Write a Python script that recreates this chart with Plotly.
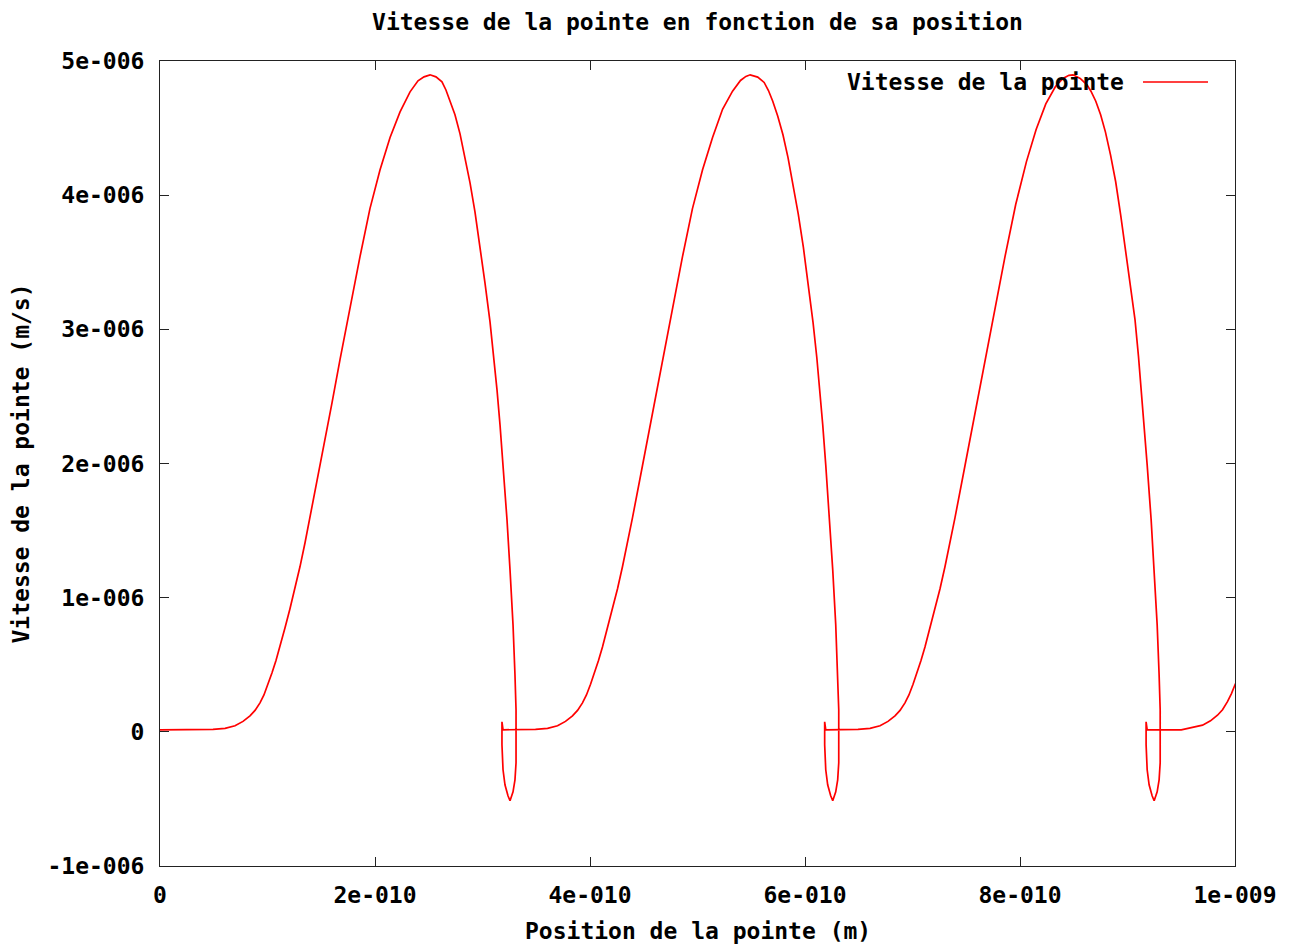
import plotly.graph_objects as go

# positions in units of 1e-10 m, velocities in units of 1e-6 m/s
cycle1_pos = [0.000, 0.493, 0.605, 0.698, 0.772, 0.837, 0.884, 0.930, 0.967, 1.005, 1.042, 1.079,
              1.116, 1.163, 1.209, 1.256, 1.302, 1.349, 1.395, 1.488, 1.600, 1.674, 1.767, 1.860,
              1.953, 2.047, 2.140, 2.233, 2.326, 2.400, 2.456, 2.512, 2.567, 2.623, 2.660, 2.698,
              2.744, 2.791, 2.837, 2.884, 2.930, 2.977, 3.023, 3.070, 3.107, 3.135, 3.163, 3.191,
              3.228, 3.256, 3.284, 3.302, 3.312, 3.312, 3.302, 3.284, 3.265, 3.256, 3.237, 3.209,
              3.191, 3.181, 3.181, 3.191]
cycle1_vit = [0.015, 0.019, 0.026, 0.045, 0.078, 0.119, 0.160, 0.216, 0.275, 0.355, 0.440, 0.532,
              0.632, 0.775, 0.917, 1.066, 1.230, 1.409, 1.595, 1.983, 2.452, 2.773, 3.168, 3.540,
              3.900, 4.190, 4.430, 4.621, 4.770, 4.852, 4.882, 4.897, 4.882, 4.845, 4.784, 4.703,
              4.599, 4.457, 4.286, 4.092, 3.876, 3.622, 3.346, 3.056, 2.788, 2.549, 2.288, 1.990,
              1.580, 1.207, 0.797, 0.425, 0.164, -0.231, -0.358, -0.447, -0.499, -0.514, -0.477, -0.395,
              -0.283, -0.097, 0.075, 0.015]

cycle2_pos = [3.493, 3.605, 3.698, 3.772, 3.837, 3.884, 3.930, 3.967, 4.005, 4.042, 4.079, 4.116,
              4.163, 4.209, 4.256, 4.302, 4.349, 4.395, 4.488, 4.600, 4.674, 4.767, 4.860, 4.953,
              5.047, 5.140, 5.233, 5.326, 5.400, 5.450, 5.490, 5.560, 5.620, 5.660, 5.700, 5.746,
              5.795, 5.842, 5.890, 5.937, 5.985, 6.030, 6.075, 6.110, 6.137, 6.165, 6.193, 6.230,
              6.258, 6.286, 6.304, 6.314, 6.314, 6.304, 6.286, 6.267, 6.258, 6.239, 6.211, 6.193,
              6.183, 6.183, 6.193]
cycle2_vit = [0.019, 0.026, 0.045, 0.078, 0.119, 0.160, 0.216, 0.275, 0.355, 0.440, 0.532, 0.632,
              0.775, 0.917, 1.066, 1.230, 1.409, 1.595, 1.983, 2.452, 2.773, 3.168, 3.540, 3.900,
              4.190, 4.430, 4.640, 4.775, 4.855, 4.885, 4.897, 4.880, 4.840, 4.780, 4.700, 4.590,
              4.450, 4.280, 4.080, 3.860, 3.610, 3.340, 3.050, 2.788, 2.549, 2.288, 1.990, 1.580,
              1.207, 0.797, 0.425, 0.164, -0.231, -0.358, -0.447, -0.499, -0.514, -0.477, -0.395, -0.283,
              -0.097, 0.075, 0.015]

cycle3_pos = [6.493, 6.605, 6.698, 6.772, 6.837, 6.884, 6.930, 6.967, 7.005, 7.042, 7.079, 7.116,
              7.163, 7.209, 7.256, 7.302, 7.349, 7.395, 7.488, 7.600, 7.674, 7.767, 7.860, 7.960,
              8.060, 8.150, 8.240, 8.330, 8.400, 8.455, 8.493, 8.560, 8.623, 8.660, 8.705, 8.750,
              8.795, 8.842, 8.890, 8.937, 8.985, 9.030, 9.070, 9.102, 9.128, 9.155, 9.183, 9.220,
              9.248, 9.276, 9.294, 9.304, 9.304, 9.294, 9.276, 9.257, 9.248, 9.229, 9.201, 9.183,
              9.173, 9.173, 9.183]
cycle3_vit = [0.019, 0.026, 0.045, 0.078, 0.119, 0.160, 0.216, 0.275, 0.355, 0.440, 0.532, 0.632,
              0.775, 0.917, 1.066, 1.230, 1.409, 1.595, 1.983, 2.452, 2.773, 3.168, 3.540, 3.930,
              4.250, 4.490, 4.680, 4.810, 4.870, 4.893, 4.897, 4.870, 4.822, 4.775, 4.700, 4.600,
              4.470, 4.300, 4.100, 3.850, 3.580, 3.330, 3.071, 2.800, 2.549, 2.288, 1.990, 1.580,
              1.207, 0.797, 0.425, 0.164, -0.231, -0.358, -0.447, -0.499, -0.514, -0.477, -0.395, -0.283,
              -0.097, 0.075, 0.015]

cycle4_pos = [9.500, 9.600, 9.698, 9.772, 9.837, 9.884, 9.930, 9.967, 10.005]
cycle4_vit = [0.015, 0.030, 0.050, 0.082, 0.124, 0.165, 0.225, 0.285, 0.360]

x_tick_vals = [0, 2e-10, 4e-10, 6e-10, 8e-10, 1e-9]
x_tick_text = ["0", "2e-010", "4e-010", "6e-010", "8e-010", "1e-009"]
y_tick_vals = [-1e-6, 0, 1e-6, 2e-6, 3e-6, 4e-6, 5e-6]
y_tick_text = ["-1e-006", "0", "1e-006", "2e-006", "3e-006", "4e-006", "5e-006"]

pos_m = [p * 1e-10 for p in cycle1_pos + cycle2_pos + cycle3_pos + cycle4_pos]
vit_ms = [v * 1e-6 for v in cycle1_vit + cycle2_vit + cycle3_vit + cycle4_vit]

FONT = "DejaVu Sans Mono"
FS = 23
RED = "#ff0000"

fig = go.Figure()
fig.add_trace(go.Scatter(x=pos_m, y=vit_ms, mode="lines", name="Vitesse de la pointe",
                         line=dict(color=RED, width=1.7), showlegend=False))

axis_common = dict(showgrid=False, zeroline=False, showline=True, linecolor="#222222",
                   linewidth=1, mirror="allticks", ticks="inside", ticklen=9, tickwidth=1,
                   tickcolor="#222222",
                   tickfont=dict(family=FONT, size=FS, color="black", weight="bold"))

fig.update_layout(
    width=1291, height=944,
    margin=dict(l=160, r=56, t=61, b=78),
    paper_bgcolor="white", plot_bgcolor="white",
    font=dict(family=FONT, size=FS, color="black", weight="bold"),
    title=dict(text="Vitesse de la pointe en fonction de sa position",
               x=0.5, xref="paper", y=1 - 22 / 944, yref="container", yanchor="middle",
               xanchor="center",
               font=dict(family=FONT, size=FS, color="black", weight="bold")),
    xaxis=dict(range=[0, 1e-9], tickvals=x_tick_vals, ticktext=x_tick_text,
               ticklabelstandoff=8, **axis_common),
    yaxis=dict(range=[-1e-6, 5e-6], tickvals=y_tick_vals, ticktext=y_tick_text,
               ticklabelstandoff=10, **axis_common),
    annotations=[
        dict(text="Position de la pointe (m)", xref="paper", yref="paper",
             x=0.5, y=(866 - 931) / 805, xanchor="center", yanchor="middle",
             showarrow=False, font=dict(family=FONT, size=FS, color="black", weight="bold")),
        dict(text="Vitesse de la pointe (m/s)", xref="paper", yref="paper",
             x=(20 - 160) / 1075, y=0.5, xanchor="center", yanchor="middle", textangle=-90,
             showarrow=False, font=dict(family=FONT, size=FS, color="black", weight="bold")),
        dict(text="Vitesse de la pointe", xref="paper", yref="paper",
             x=(1126 - 160) / 1075, y=(866 - 82) / 805, xanchor="right", yanchor="middle",
             showarrow=False, font=dict(family=FONT, size=FS, color="black", weight="bold")),
    ],
    shapes=[
        dict(type="line", xref="paper", yref="paper",
             x0=(1143 - 160) / 1075, x1=(1208 - 160) / 1075,
             y0=(866 - 82) / 805, y1=(866 - 82) / 805,
             line=dict(color=RED, width=1.7)),
    ],
)

fig.write_html("out.html")
